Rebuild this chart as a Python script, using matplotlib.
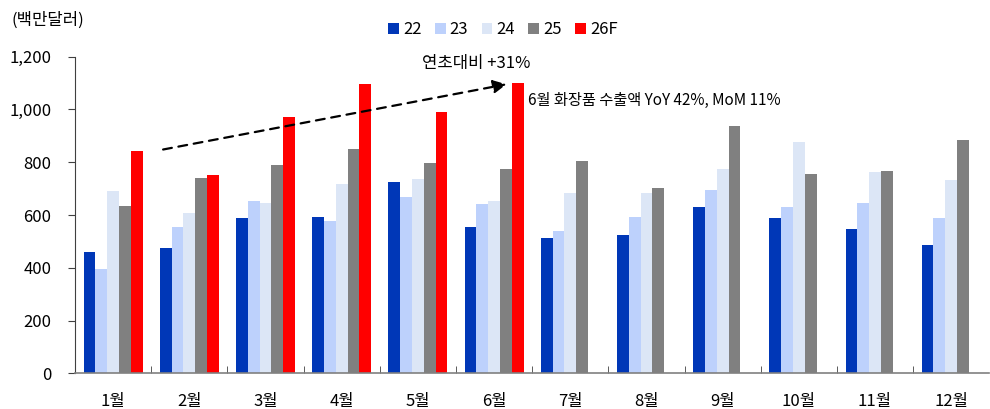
import numpy as np
import matplotlib
matplotlib.use("Agg")
import matplotlib.pyplot as plt
from matplotlib.ticker import FuncFormatter, FixedLocator

plt.rcParams['font.family'] = ['Noto Sans CJK KR', 'DejaVu Sans']

months = ["1월", "2월", "3월", "4월", "5월", "6월", "7월", "8월", "9월", "10월", "11월", "12월"]
y22 = [459, 474, 590, 591, 726, 553, 512, 524, 630, 589, 546, 488]
y23 = [395, 554, 654, 577, 668, 642, 539, 591, 695, 631, 644, 587]
y24 = [691, 609, 647, 718, 737, 652, 684, 684, 773, 875, 763, 732]
y25 = [633, 740, 789, 850, 796, 773, 805, 701, 937, 754, 765, 884]
y26 = [842, 752, 970, 1095, 989, 1101]

series = [("22", y22, "#0037B7"), ("23", y23, "#BDD1FC"), ("24", y24, "#DCE6F6"),
          ("25", y25, "#808080"), ("26F", y26, "#FF0000")]

fig = plt.figure(figsize=(9.9, 4.09), dpi=100)
ax = fig.add_axes([0.0758, 0.0868, 0.9235, 0.775])

w = 0.155
x = np.arange(len(months))
for i, (name, vals, color) in enumerate(series):
    xs = x[:len(vals)] + (i - 2) * w
    ax.bar(xs, vals, width=w, color=color, label=name, linewidth=0)

ax.set_xlim(-0.5, 11.5)
ax.set_ylim(0, 1200)
ax.set_yticks(range(0, 1201, 200))
ax.yaxis.set_major_formatter(FuncFormatter(lambda v, p: f"{int(v):,}"))
ax.set_xticks(x)
ax.set_xticklabels(months)
ax.xaxis.set_minor_locator(FixedLocator(np.arange(0.5, 11.5, 1)))
ax.tick_params(axis='x', which='major', length=0, pad=14, labelsize=12)
ax.tick_params(axis='x', which='minor', length=5, direction='in', color='#404040')
ax.tick_params(axis='y', length=5, direction='out', pad=12, labelsize=12, color='#404040')

for s in ['top', 'right']:
    ax.spines[s].set_visible(False)
ax.spines['left'].set_color('#404040')
ax.spines['bottom'].set_color('#808080')
ax.spines['bottom'].set_linewidth(1.2)

ax.annotate("", xy=(5.2, 1097), xytext=(0.62, 846),
            arrowprops=dict(arrowstyle='-|>', color='black', lw=1.6,
                            linestyle=(0, (4, 3)), mutation_scale=20))
ax.text(4.77, 1175, "연초대비 +31%", ha='center', va='center', fontsize=12)
ax.text(5.45, 1035, "6월 화장품 수출액 YoY 42%, MoM 11%", ha='left', va='center', fontsize=11)

fig.text(0.012, 0.95, "(백만달러)", fontsize=12, va='center', ha='left')

fig.legend(loc='center', bbox_to_anchor=(0.508, 0.927), ncol=5, frameon=False,
           fontsize=12, handlelength=0.65, handleheight=0.65, handletextpad=0.25,
           columnspacing=0.8)

fig.savefig("out.png", dpi=100)
